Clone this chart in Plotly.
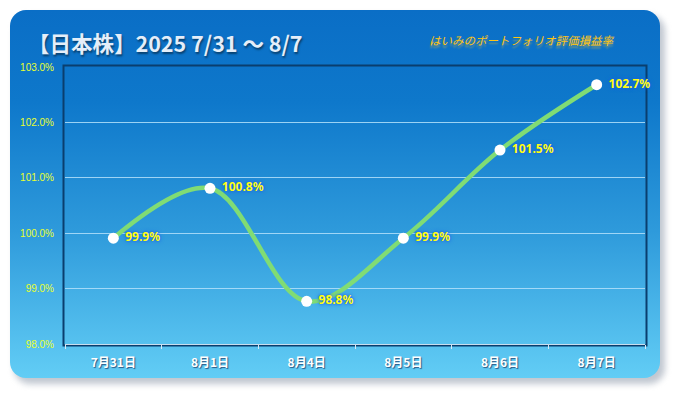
import base64
import plotly.graph_objects as go

# ---- data ----
dates = ["7月31日", "8月1日", "8月4日", "8月5日", "8月6日", "8月7日"]
values = [99.91, 100.81, 98.77, 99.91, 101.50, 102.68]
value_labels = ["99.9%", "100.8%", "98.8%", "99.9%", "101.5%", "102.7%"]
y_tick_vals = [98, 99, 100, 101, 102, 103]
y_tick_text = ["98.0%", "99.0%", "100.0%", "101.0%", "102.0%", "103.0%"]
title_text = "【日本株】2025 7/31 〜 8/7"
subtitle_text = "はいみのポートフォリオ評価損益率"

W, H = 675, 393
ML, MR, MT, MB = 65, 30, 67, 49
PW, PH = W - ML - MR, H - MT - MB

svg = f'''<svg xmlns="http://www.w3.org/2000/svg" width="{W}" height="{H}" viewBox="0 0 {W} {H}">
<defs>
<linearGradient id="g" x1="0" y1="0" x2="0" y2="1">
<stop offset="0" stop-color="#0A6EC6"/>
<stop offset="0.25" stop-color="#0E78CB"/>
<stop offset="0.6" stop-color="#2E9ADB"/>
<stop offset="1" stop-color="#62CDF5"/>
</linearGradient>
<filter id="s" x="-5%" y="-5%" width="110%" height="115%"><feGaussianBlur stdDeviation="3"/></filter>
</defs>
<rect x="0" y="0" width="{W}" height="{H}" fill="#ffffff"/>
<rect x="14" y="15" width="651" height="369" rx="16" fill="#8E9AAA" opacity="0.55" filter="url(#s)"/>
<rect x="10" y="10" width="650" height="368" rx="16" fill="url(#g)"/>
</svg>'''
bg_src = "data:image/svg+xml;base64," + base64.b64encode(svg.encode("utf-8")).decode("ascii")

fig = go.Figure()
fig.add_trace(go.Scatter(
    x=dates, y=values, mode="lines+markers+text",
    line=dict(color="#80DC74", width=4.5, shape="spline", smoothing=1.0),
    marker=dict(color="#FFFFFF", size=11),
    text=["\u2009\u2009" + t for t in value_labels], textposition="middle right",
    textfont=dict(family="Noto Sans, Liberation Sans, sans-serif", size=12, color="#FFFF10",
                  weight="bold", shadow="0px 0px 2px #1D5FE8, 0px 0px 4px #1D5FE8"),
    cliponaxis=False, hoverinfo="skip",
))

fig.update_layout(
    width=W, height=H,
    margin=dict(l=ML, r=MR, t=MT, b=MB, pad=0),
    paper_bgcolor="#FFFFFF", plot_bgcolor="rgba(0,0,0,0)",
    showlegend=False,
    images=[dict(source=bg_src, xref="paper", yref="paper",
                 x=-ML / PW, y=1 + MT / PH, sizex=W / PW, sizey=H / PH,
                 xanchor="left", yanchor="top", sizing="stretch", layer="below")],
    shapes=[dict(type="rect", xref="paper", yref="paper",
                 x0=-1.5 / PW, x1=1 + 1.5 / PW, y0=-1.5 / PH, y1=1 + 1.5 / PH,
                 line=dict(color="#0A3E6E", width=2), layer="below")],
    xaxis=dict(
        type="category", range=[-0.5, len(dates) - 0.5],
        showgrid=False, zeroline=False,
        showline=True, linecolor="#C8DDEE", linewidth=1,
        ticks="outside", tickson="boundaries", ticklen=4, tickcolor="#D8E8F4",
        ticklabelstandoff=8,
        tickfont=dict(family="Noto Sans CJK JP, sans-serif", size=12, color="#FFFFFF",
                      weight="bold", shadow="1px 1px 1px #2A5A86"),
        fixedrange=True,
    ),
    yaxis=dict(
        range=[98, 103], tickvals=y_tick_vals, ticktext=y_tick_text,
        showgrid=True, gridcolor="rgba(180,225,250,0.85)", gridwidth=1,
        zeroline=False, showline=False, ticks="", ticklabelstandoff=10,
        tickfont=dict(family="Liberation Sans, Noto Sans, sans-serif", size=10, color="#E8FF30"),
        fixedrange=True,
    ),
    annotations=[
        dict(text=title_text, xref="paper", yref="paper",
             x=(26 - ML) / PW, y=1 + (MT - 42) / PH, xanchor="left", yanchor="middle",
             showarrow=False,
             font=dict(family="Noto Sans CJK JP, sans-serif", size=21.5, color="#E4EEF9",
                       weight="bold", shadow="1px 2px 2px #08406E")),
        dict(text=subtitle_text, xref="paper", yref="paper",
             x=(521 - ML) / PW, y=1 + (MT - 40) / PH, xanchor="center", yanchor="middle",
             showarrow=False,
             font=dict(family="Noto Sans CJK JP, sans-serif", size=11.5, color="#FFC414",
                       style="italic", shadow="0px 3px 2px rgba(255,200,40,0.45)")),
    ],
)

fig.write_html("out.html", config={"displayModeBar": False, "staticPlot": True},
               post_script="document.body.style.margin='0';document.body.style.padding='0';")
